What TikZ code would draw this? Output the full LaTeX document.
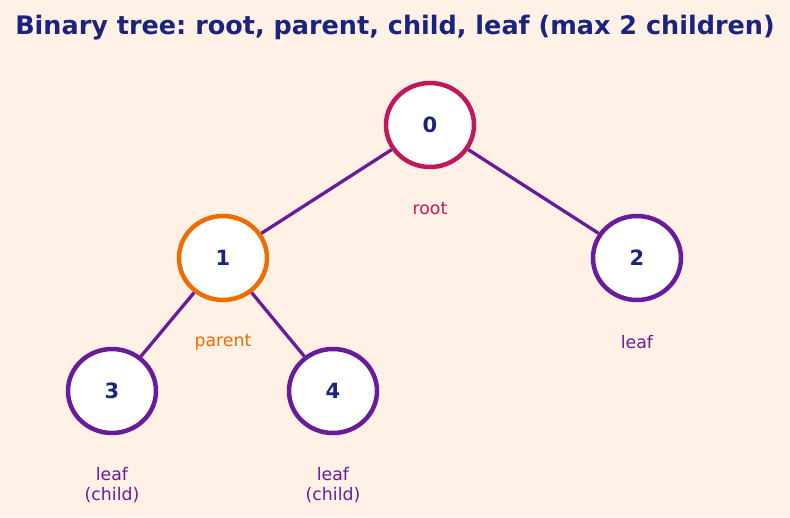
\documentclass[tikz,border=0pt]{standalone}
\usepackage{fontspec}
\setmainfont{DejaVu Sans}
\usetikzlibrary{shapes.geometric}
\frenchspacing
\definecolor{bg}{HTML}{FFF1E6}
\definecolor{navy}{HTML}{1A237E}
\definecolor{rootc}{HTML}{C2185B}
\definecolor{parc}{HTML}{EF6C00}
\definecolor{purp}{HTML}{6A1B9A}
\tikzset{
  tn/.style={ellipse, minimum width=88pt, minimum height=84pt, inner sep=0pt, fill=white, line width=4.5pt, text=navy, font=\fontsize{21}{24}\selectfont\bfseries},
  lbl/.style={font=\fontsize{17.3}{20.5}\selectfont, align=center},
  edge/.style={draw=purp, line width=3.3pt}
}
\begin{document}
\begin{tikzpicture}[x=1pt,y=-1pt]
\fill[bg] (0,0) rectangle (790,517);
\useasboundingbox (0,0) rectangle (790,517);
\node[font=\fontsize{25.5}{30}\selectfont\bfseries, text=navy] (title) at (395,27.5) {Binary tree: root, parent, child, leaf (max 2 children)};
\node[tn, draw=rootc] (n0) at (430,125) {0};
\node[tn, draw=parc] (n1) at (223,258) {1};
\node[tn, draw=purp] (n2) at (637,258) {2};
\node[tn, draw=purp] (n3) at (112,391) {3};
\node[tn, draw=purp] (n4) at (333,391) {4};
\draw[edge] (n0) -- (n1);
\draw[edge] (n0) -- (n2);
\draw[edge] (n1) -- (n3);
\draw[edge] (n1) -- (n4);
\node[lbl, text=rootc] (l0) at (430,209) {root};
\node[lbl, text=parc] (l1) at (223,342) {parent};
\node[lbl, text=purp] (l2) at (637,342) {leaf};
\node[lbl, text=purp] (l3) at (112,485) {leaf\\(child)};
\node[lbl, text=purp] (l4) at (333,485) {leaf\\(child)};
\end{tikzpicture}
\end{document}
